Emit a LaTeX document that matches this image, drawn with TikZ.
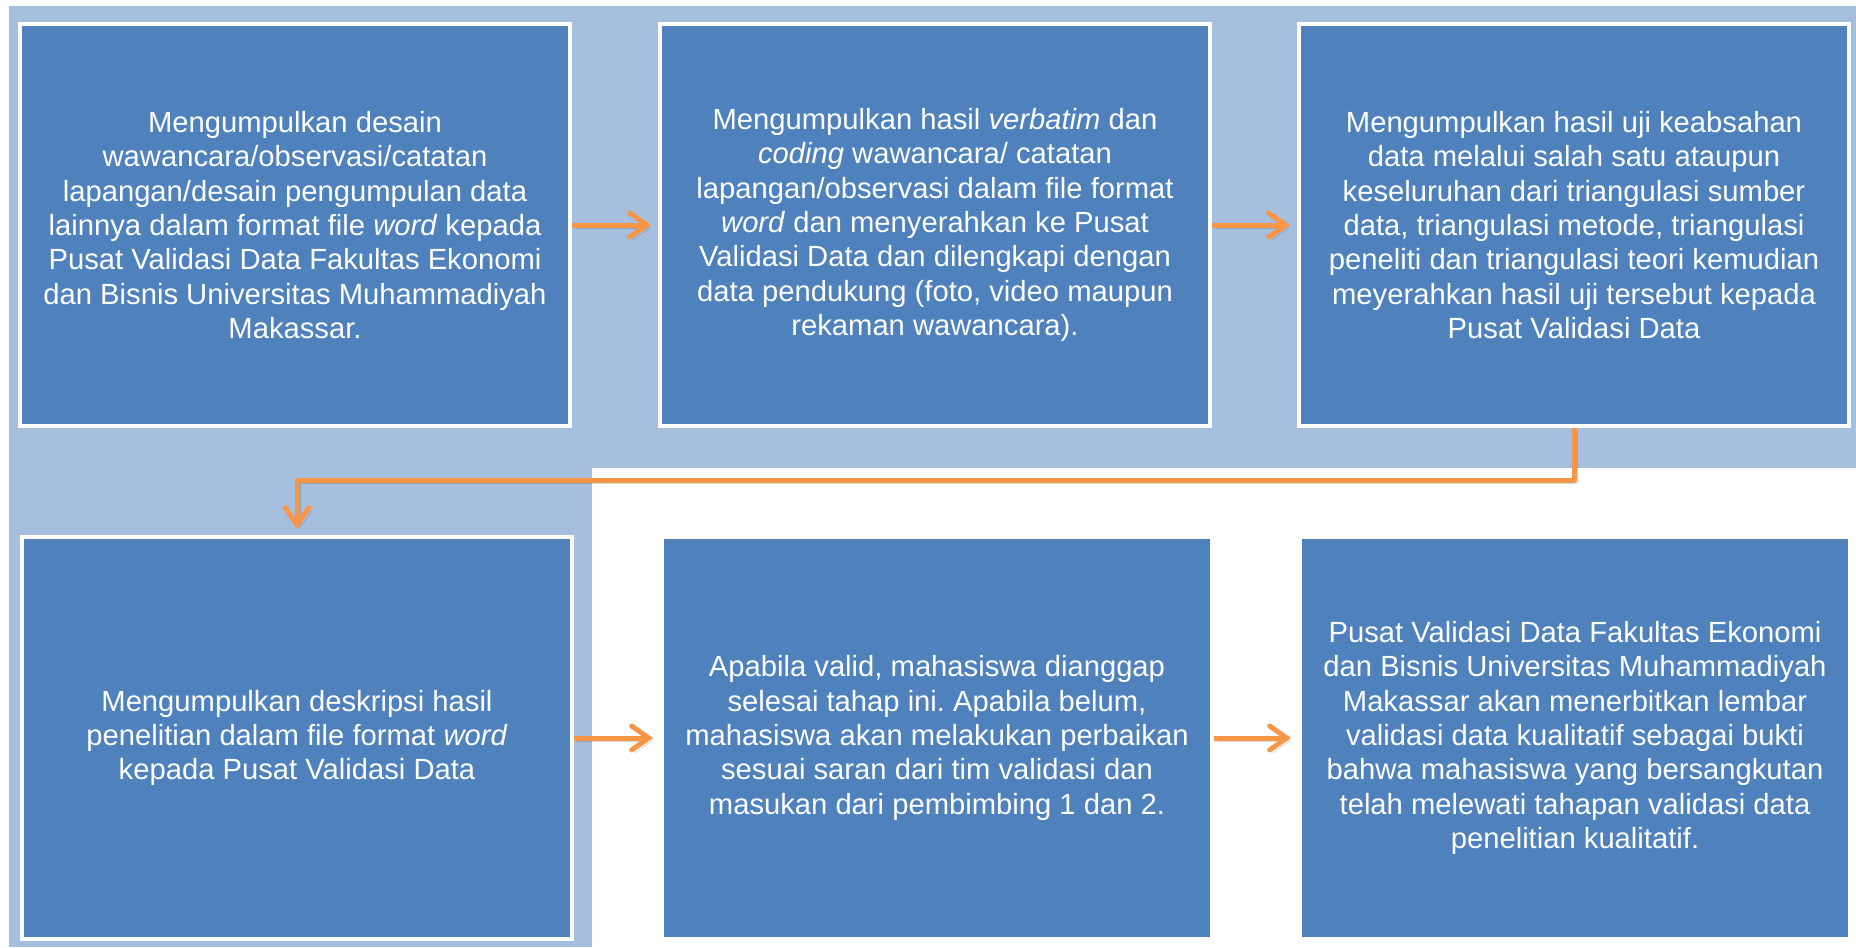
\documentclass[tikz,border=0pt]{standalone}
\usepackage{fontspec}
\setmainfont{Liberation Sans}
\usepackage{xcolor}
\usepackage{tikz}
\usetikzlibrary{shapes,arrows, positioning, arrows.meta}
\frenchspacing

\definecolor{cajaazul}{HTML}{4F81BD}
\definecolor{fondoazul}{HTML}{A7BFDE}
\definecolor{flechanaranja}{HTML}{F79646}

\tikzset{
    caja/.style={draw=white, line width=2pt, fill=cajaazul, text=white,
        minimum width=275pt, minimum height=201pt, inner sep=0pt, align=center,
        font=\fontsize{14.6}{17.2}\selectfont},
    flujo/.style={draw=flechanaranja, line width=2.5pt, line join=round,
        -{Straight Barb[length=8.5pt, width=12pt, line cap=round]},
        preaction={draw=black, opacity=0.15, transform canvas={shift={(1.5pt,-1.5pt)}}}}
}

\begin{document}
\begin{tikzpicture}[x=0.5pt, y=-0.5pt]
    \useasboundingbox (0,0) rectangle (1856,947);
    % Fondo azul claro
        \fill[fondoazul] (9,6) rectangle (1856,468);
        \fill[fondoazul] (9,468) rectangle (592,947);
    % Cajas de la primera fila
        \node[caja] (desain) at (295,225) {Mengumpulkan desain\\
            wawancara/observasi/catatan\\
            lapangan/desain pengumpulan data\\
            lainnya dalam format file \textit{word} kepada\\
            Pusat Validasi Data Fakultas Ekonomi\\
            dan Bisnis Universitas Muhammadiyah\\
            Makassar.};
        \node[caja] (verbatim) at (935,225) {Mengumpulkan hasil \textit{verbatim} dan\\
            \textit{coding} wawancara/ catatan\\
            lapangan/observasi dalam file format\\
            \textit{word} dan menyerahkan ke Pusat\\
            Validasi Data dan dilengkapi dengan\\
            data pendukung (foto, video maupun\\
            rekaman wawancara).};
        \node[caja] (keabsahan) at (1574,225) {Mengumpulkan hasil uji keabsahan\\
            data melalui salah satu ataupun\\
            keseluruhan dari triangulasi sumber\\
            data, triangulasi metode, triangulasi\\
            peneliti dan triangulasi teori kemudian\\
            meyerahkan hasil uji tersebut kepada\\
            Pusat Validasi Data};
    % Cajas de la segunda fila
        \node[caja] (deskripsi) at (297,738) {Mengumpulkan deskripsi hasil\\
            penelitian dalam file format \textit{word}\\
            kepada Pusat Validasi Data};
        \node[caja] (perbaikan) at (937,738) {Apabila valid, mahasiswa dianggap\\
            selesai tahap ini. Apabila belum,\\
            mahasiswa akan melakukan perbaikan\\
            sesuai saran dari tim validasi dan\\
            masukan dari pembimbing 1 dan 2.};
        \node[caja] (lembar) at (1575,738) {Pusat Validasi Data Fakultas Ekonomi\\
            dan Bisnis Universitas Muhammadiyah\\
            Makassar akan menerbitkan lembar\\
            validasi data kualitatif sebagai bukti\\
            bahwa mahasiswa yang bersangkutan\\
            telah melewati tahapan validasi data\\
            penelitian kualitatif.};
    % Flechas
        \draw[flujo, shorten >=3.5pt] (desain) -- (verbatim);
        \draw[flujo, shorten >=3.5pt] (verbatim) -- (keabsahan);
        \draw[flujo, shorten >=3pt] (keabsahan.south) -- ++(0,52) -| (deskripsi.north);
        \draw[flujo, shorten >=3.5pt] (deskripsi) -- (perbaikan);
        \draw[flujo, shorten >=3.5pt] (perbaikan) -- (lembar);
\end{tikzpicture}
\end{document}
